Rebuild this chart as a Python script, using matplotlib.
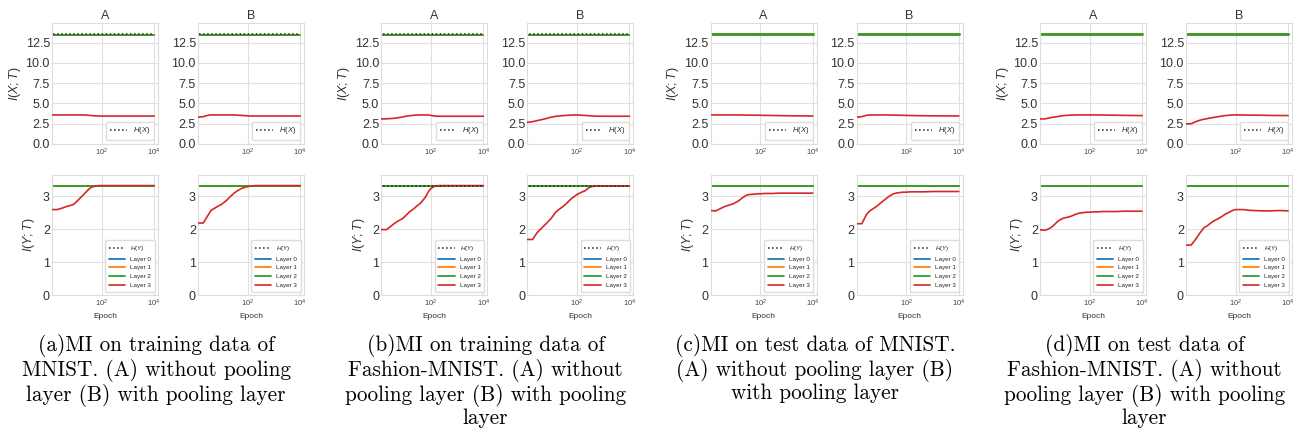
import matplotlib.pyplot as plt
import matplotlib.ticker as mticker
import seaborn as sns

sns.set_style('whitegrid')
plt.rcParams['font.family'] = ['Liberation Sans', 'DejaVu Sans']
plt.rcParams['mathtext.fontset'] = 'custom'
plt.rcParams['mathtext.it'] = 'Liberation Sans:italic'
plt.rcParams['mathtext.rm'] = 'Liberation Sans'

# ---- data ----
epochs = [1, 2, 3, 4, 6, 8, 10, 15, 20, 30, 40, 60, 80, 100, 150, 200, 300, 500, 1000, 2000, 5000, 10000]

H_X = 13.55
H_Y = 3.32
# layers 0..2 sit on the entropy line (one value per group a..d)
layer012_ixt = [13.42, 13.42, 13.60, 13.60]
layer012_iyt = [3.32, 3.32, 3.33, 3.33]

# layer 3, I(X;T)
ixt_a_A = [3.58, 3.58, 3.58, 3.58, 3.58, 3.58, 3.58, 3.58, 3.58, 3.54, 3.50, 3.46, 3.45, 3.44, 3.44, 3.44, 3.44, 3.44, 3.44, 3.44, 3.44, 3.44]
ixt_a_B = [3.28, 3.37, 3.53, 3.58, 3.58, 3.58, 3.58, 3.58, 3.58, 3.58, 3.55, 3.52, 3.49, 3.46, 3.45, 3.45, 3.45, 3.45, 3.45, 3.45, 3.45, 3.45]
ixt_b_A = [3.08, 3.10, 3.14, 3.17, 3.25, 3.32, 3.40, 3.48, 3.53, 3.57, 3.58, 3.58, 3.57, 3.52, 3.43, 3.42, 3.42, 3.42, 3.42, 3.42, 3.42, 3.42]
ixt_b_B = [2.62, 2.75, 2.88, 2.97, 3.10, 3.20, 3.30, 3.40, 3.45, 3.50, 3.53, 3.56, 3.58, 3.58, 3.55, 3.52, 3.47, 3.43, 3.42, 3.42, 3.42, 3.42]
ixt_c_A = [3.58, 3.58, 3.58, 3.58, 3.58, 3.58, 3.58, 3.57, 3.57, 3.56, 3.56, 3.55, 3.55, 3.54, 3.53, 3.52, 3.51, 3.50, 3.48, 3.47, 3.46, 3.45]
ixt_c_B = [3.28, 3.37, 3.53, 3.58, 3.58, 3.58, 3.58, 3.58, 3.57, 3.56, 3.55, 3.54, 3.53, 3.52, 3.51, 3.50, 3.49, 3.48, 3.47, 3.46, 3.46, 3.45]
ixt_d_A = [3.08, 3.10, 3.22, 3.30, 3.38, 3.45, 3.50, 3.54, 3.56, 3.57, 3.58, 3.58, 3.58, 3.58, 3.58, 3.57, 3.57, 3.56, 3.54, 3.53, 3.51, 3.50]
ixt_d_B = [2.46, 2.50, 2.75, 2.90, 3.05, 3.12, 3.18, 3.28, 3.35, 3.44, 3.50, 3.55, 3.57, 3.58, 3.58, 3.57, 3.56, 3.55, 3.54, 3.52, 3.51, 3.50]

# layer 3, I(Y;T)
iyt_a_A = [2.60, 2.60, 2.64, 2.68, 2.72, 2.75, 2.81, 2.95, 3.05, 3.20, 3.28, 3.32, 3.33, 3.33, 3.33, 3.33, 3.33, 3.33, 3.33, 3.33, 3.33, 3.33]
iyt_a_B = [2.19, 2.19, 2.42, 2.58, 2.66, 2.72, 2.76, 2.87, 2.97, 3.10, 3.17, 3.25, 3.28, 3.30, 3.32, 3.33, 3.33, 3.33, 3.33, 3.33, 3.33, 3.33]
iyt_b_A = [1.99, 1.99, 2.10, 2.18, 2.27, 2.32, 2.39, 2.53, 2.60, 2.72, 2.80, 2.97, 3.15, 3.25, 3.32, 3.33, 3.33, 3.33, 3.33, 3.33, 3.33, 3.33]
iyt_b_B = [1.69, 1.69, 1.90, 2.00, 2.14, 2.24, 2.32, 2.51, 2.60, 2.70, 2.79, 2.93, 3.00, 3.06, 3.13, 3.17, 3.28, 3.32, 3.32, 3.32, 3.32, 3.32]
iyt_c_A = [2.57, 2.56, 2.63, 2.68, 2.73, 2.76, 2.79, 2.87, 2.95, 3.04, 3.06, 3.07, 3.08, 3.08, 3.09, 3.09, 3.09, 3.10, 3.10, 3.10, 3.10, 3.10]
iyt_c_B = [2.17, 2.17, 2.45, 2.56, 2.65, 2.72, 2.79, 2.90, 2.98, 3.07, 3.10, 3.12, 3.13, 3.13, 3.14, 3.14, 3.14, 3.14, 3.15, 3.15, 3.15, 3.15]
iyt_d_A = [1.99, 1.97, 2.03, 2.10, 2.24, 2.30, 2.34, 2.37, 2.40, 2.46, 2.49, 2.51, 2.52, 2.52, 2.53, 2.53, 2.54, 2.54, 2.54, 2.55, 2.55, 2.55]
iyt_d_B = [1.52, 1.52, 1.70, 1.85, 2.04, 2.10, 2.16, 2.26, 2.31, 2.39, 2.46, 2.53, 2.58, 2.60, 2.60, 2.60, 2.58, 2.57, 2.56, 2.56, 2.57, 2.56]

ixt_groups = [(ixt_a_A, ixt_a_B), (ixt_b_A, ixt_b_B), (ixt_c_A, ixt_c_B), (ixt_d_A, ixt_d_B)]
iyt_groups = [(iyt_a_A, iyt_a_B), (iyt_b_A, iyt_b_B), (iyt_c_A, iyt_c_B), (iyt_d_A, iyt_d_B)]
# is the dotted entropy line drawn over the layer lines (top row, bottom row)
h_on_top = [(True, False), (True, True), (False, False), (False, False)]

captions = [
    "(a)MI on training data of\nMNIST. (A) without pooling\nlayer (B) with pooling layer",
    "(b)MI on training data of\nFashion-MNIST. (A) without\npooling layer (B) with pooling\nlayer",
    "(c)MI on test data of MNIST.\n(A) without pooling layer (B)\nwith pooling layer",
    "(d)MI on test data of\nFashion-MNIST. (A) without\npooling layer (B) with pooling\nlayer",
]

layer_colors = ['#1f77b4', '#ff7f0e', '#2ca02c', '#d62728']

W, H = 1306, 445
fig = plt.figure(figsize=(W / 100, H / 100), dpi=100)


def px_axes(x0, y0, w, h):
    return fig.add_axes([x0 / W, 1 - (y0 + h) / H, w / W, h / H])


def style_axes(ax, top):
    ax.set_xscale('log')
    ax.set_xlim(1.26, 14000)
    ax.xaxis.set_major_locator(mticker.FixedLocator([1e2, 1e4]))
    ax.xaxis.set_minor_locator(mticker.NullLocator())
    ax.tick_params(axis='x', labelsize=5.5, pad=2, colors='#444444')
    ax.tick_params(axis='y', labelsize=9, pad=1.5, colors='#333333')
    ax.tick_params(length=0)
    for s in ax.spines.values():
        s.set_color('#dddddd')
        s.set_linewidth(0.8)
    ax.grid(color='#e0e0e0', linewidth=0.8)
    if top:
        ax.set_ylim(0, 1.1 * H_X)
        ax.set_yticks([0, 2.5, 5.0, 7.5, 10.0, 12.5])
        ax.yaxis.set_major_formatter(mticker.FormatStrFormatter('%.1f'))
    else:
        ax.set_ylim(0, 1.1 * H_Y)
        ax.set_yticks([0, 1, 2, 3])


for g in range(4):
    gx = 52 + 329.3 * g
    for k, name in enumerate(['A', 'B']):
        x0 = gx + 146 * k
        # top row: I(X;T)
        ax = px_axes(x0, 23, 106, 121)
        top_on = h_on_top[g][0]
        ax.plot(epochs, [H_X] * len(epochs), ':', color='#222222', lw=1.1,
                label='$H(X)$', zorder=5 if top_on else 1)
        lw = 1.2 if top_on else 1.8
        for li in range(3):
            ax.plot(epochs, [layer012_ixt[g]] * len(epochs), color=layer_colors[li], lw=lw, zorder=2)
        ax.plot(epochs, ixt_groups[g][k], color=layer_colors[3], lw=1.2, zorder=3)
        style_axes(ax, True)
        ax.set_title(name, fontsize=9, pad=3, color='#333333')
        if k == 0:
            ax.set_ylabel('$I(X;T)$', fontsize=9, labelpad=2, color='#333333')
        hh, ll = ax.get_legend_handles_labels()
        ax.legend(hh[:1], ll[:1], loc='lower right', fontsize=5.5, frameon=True,
                  handlelength=2.2, borderpad=0.5, framealpha=1, edgecolor='#dddddd')

        # bottom row: I(Y;T)
        ax = px_axes(x0, 175, 106, 120)
        bot_on = h_on_top[g][1]
        ax.plot(epochs, [H_Y] * len(epochs), ':', color='#222222', lw=1.1,
                label='$H(Y)$', zorder=5 if bot_on else 1)
        for li in range(3):
            ax.plot(epochs, [layer012_iyt[g]] * len(epochs), color=layer_colors[li], lw=1.3,
                    label='Layer %d' % li, zorder=2)
        ax.plot(epochs, iyt_groups[g][k], color=layer_colors[3], lw=1.2, label='Layer 3', zorder=3)
        style_axes(ax, False)
        ax.set_xlabel('Epoch', fontsize=6, labelpad=3, color='#333333')
        if k == 0:
            ax.set_ylabel('$I(Y;T)$', fontsize=9, labelpad=4, color='#333333')
        ax.legend(loc='lower right', fontsize=4.5, frameon=True, handlelength=2.6,
                  borderpad=0.6, labelspacing=0.55, framealpha=1, edgecolor='#dddddd')

    fig.text((156 + 329.5 * g) / W, 1 - 334 / H, captions[g], ha='center', va='top',
             fontsize=15.3, family='cmr10', linespacing=1.12, color='black')

fig.savefig('out.png', dpi=100)
